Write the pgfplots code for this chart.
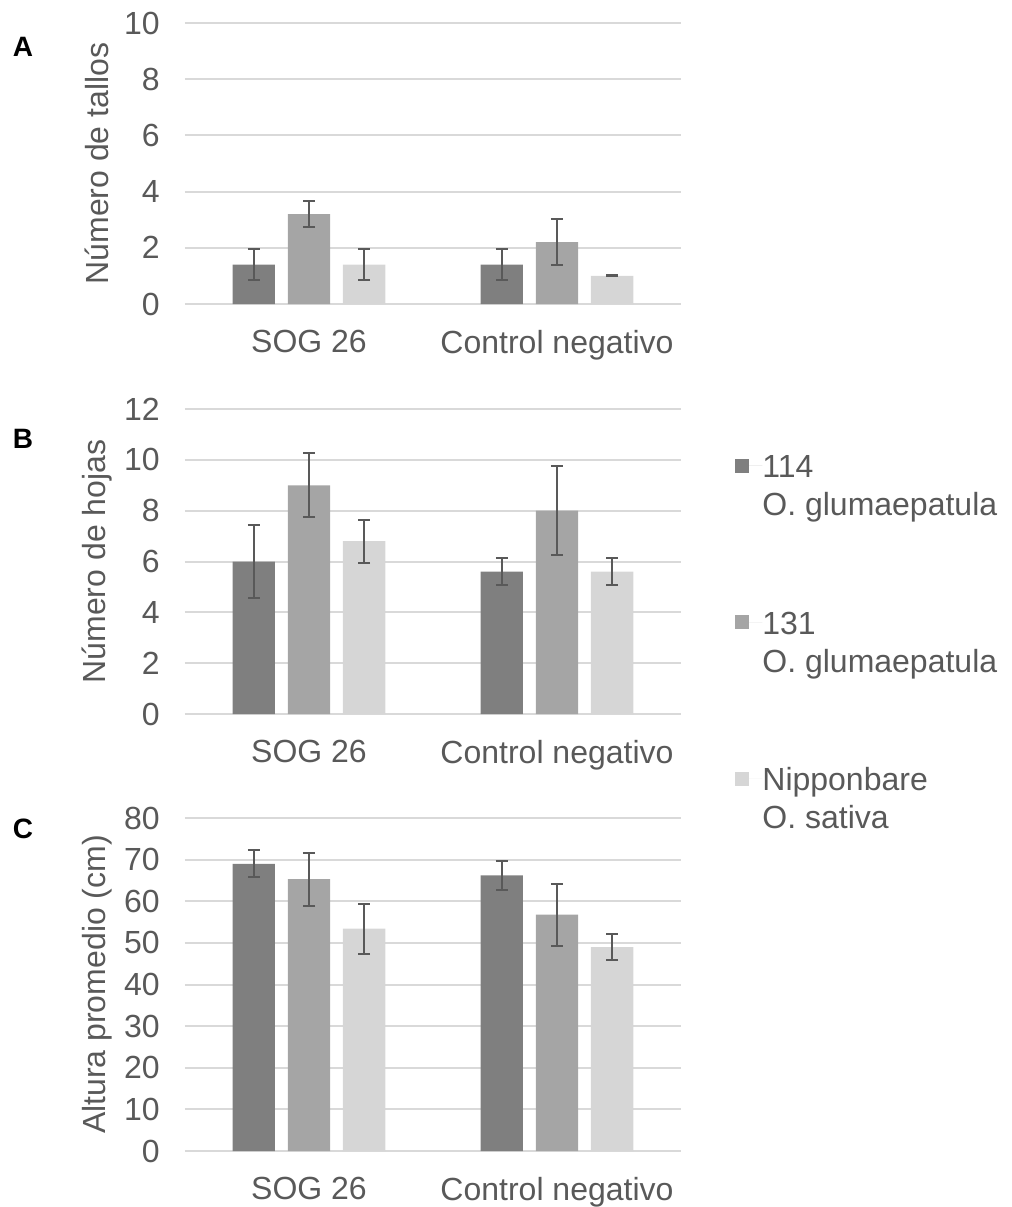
\documentclass[border=0pt]{standalone}
\usepackage{fontspec}
\setmainfont{Liberation Sans}
\usepackage{pgfplots}
\pgfplotsset{compat=1.18}
\definecolor{cA}{HTML}{7F7F7F}
\definecolor{cB}{HTML}{A5A5A5}
\definecolor{cC}{HTML}{D6D6D6}
\definecolor{txt}{HTML}{595959}
\definecolor{grd}{HTML}{D9D9D9}
\definecolor{errc}{HTML}{595959}
\newcommand{\fs}{\fontsize{16}{19}\selectfont}
\pgfplotsset{
  panel/.style={
    anchor=south west, width=248pt, scale only axis,
    xmin=-0.5, xmax=1.5, xtick={0,1}, xticklabels={SOG 26, Control negativo},
    ymin=0, ymajorgrids, major grid style={grd, line width=1pt},
    axis line style={draw=none}, major tick length=0pt, tick style={draw=none},
    ticklabel style={font=\fs, text=txt},
    /pgf/number format/assume math mode=true,
    yticklabel style={inner sep=0pt, xshift=-12.5pt},
    xticklabel style={inner sep=0pt, yshift=-13pt},
    ylabel style={at={(axis description cs:-0.1774,0.5)}, anchor=center, font=\fs, text=txt},
    ybar, bar width=21.2pt, clip=false,
    legend image code/.code={\fill[##1] (0pt,-3.5pt) rectangle (7pt,3.5pt); \path (0pt,0pt) -- (13.5pt,0pt);},
  },
  errs/.style={error bars/.cd, y dir=both, y explicit,
    error bar style={draw=errc, line width=1pt},
    error mark options={rotate=90, mark size=3pt, line width=1pt, draw=errc}},
  s1/.style={fill=cA, draw=none, bar shift=-27.6pt, errs},
  s2/.style={fill=cB, draw=none, bar shift=0pt, errs},
  s3/.style={fill=cC, draw=none, bar shift=27.6pt, errs},
}
\begin{document}
\begin{tikzpicture}
\path[use as bounding box] (0,0) rectangle (506pt,-603.5pt);
% Panel A
\begin{axis}[panel, at={(92.5pt,-152pt)}, height=140.5pt, ymax=10, ytick={0,2,...,10}, ylabel={Número de tallos}]
\addplot[s1] coordinates {(0,1.4) +- (0,0.55) (1,1.4) +- (0,0.55)};
\addplot[s2] coordinates {(0,3.2) +- (0,0.46) (1,2.2) +- (0,0.82)};
\addplot[s3] coordinates {(0,1.4) +- (0,0.55) (1,1.0) +- (0,0.02)};
\end{axis}
% Panel B
\begin{axis}[panel, at={(92.5pt,-357pt)}, height=152.5pt, ymax=12, ytick={0,2,...,12}, ylabel={Número de hojas},
  legend style={at={(1.1089,0.8643)}, anchor=north west, draw=none, fill=none, inner sep=0pt,
    nodes={inner sep=0pt}, font=\fs, text=txt, row sep=63.5pt},
  legend cell align=left]
\addplot[s1] coordinates {(0,6.0) +- (0,1.44) (1,5.6) +- (0,0.52)};
\addlegendentry{\begin{tabular}[t]{@{}l@{}}114\\O. glumaepatula\end{tabular}}
\addplot[s2] coordinates {(0,9.0) +- (0,1.25) (1,8.0) +- (0,1.74)};
\addlegendentry{\begin{tabular}[t]{@{}l@{}}131\\O. glumaepatula\end{tabular}}
\addplot[s3] coordinates {(0,6.8) +- (0,0.84) (1,5.6) +- (0,0.52)};
\addlegendentry{\begin{tabular}[t]{@{}l@{}}Nipponbare\\O. sativa\end{tabular}}
\end{axis}
% Panel C
\begin{axis}[panel, at={(92.5pt,-575.5pt)}, height=166.5pt, ymax=80, ytick={0,10,...,80}, ylabel={Altura promedio (cm)}]
\addplot[s1] coordinates {(0,69.0) +- (0,3.25) (1,66.2) +- (0,3.45)};
\addplot[s2] coordinates {(0,65.3) +- (0,6.4) (1,56.8) +- (0,7.45)};
\addplot[s3] coordinates {(0,53.4) +- (0,6.0) (1,49.0) +- (0,3.05)};
\end{axis}
\node[font=\bfseries\fontsize{14}{16}\selectfont] at (11.5pt,-23.5pt) {A};
\node[font=\bfseries\fontsize{14}{16}\selectfont] at (11.5pt,-219.5pt) {B};
\node[font=\bfseries\fontsize{14}{16}\selectfont] at (11.5pt,-414.5pt) {C};
\end{tikzpicture}
\end{document}
